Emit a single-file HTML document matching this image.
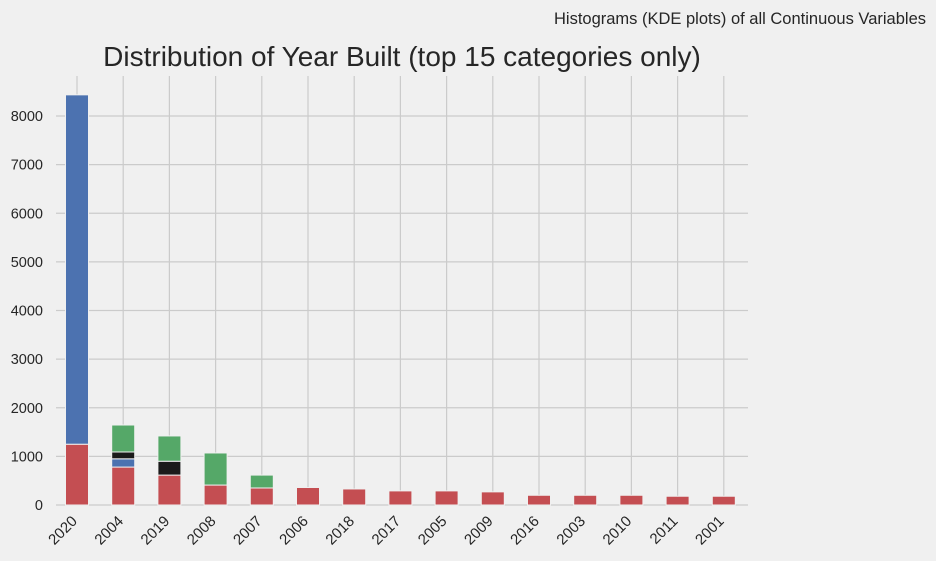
<!DOCTYPE html>
<html><head><meta charset="utf-8"><style>
body{margin:0;background:#f0f0f0;font-family:"Liberation Sans",sans-serif;overflow:hidden;}
svg{display:block;}
svg text{font-family:"Liberation Sans",sans-serif;fill:#262626;}
</style></head><body>
<svg width="936" height="561" xmlns="http://www.w3.org/2000/svg">
<rect width="936" height="561" fill="#f0f0f0"/>
<text x="926" y="24" text-anchor="end" font-size="16.5">Histograms (KDE plots) of all Continuous Variables</text>
<text x="402" y="66" text-anchor="middle" font-size="28">Distribution of Year Built (top 15 categories only)</text>
<g id="grid"></g><g id="bars"></g><g id="axes"></g>
</svg>
<script>
const categories=["2020","2004","2019","2008","2007","2006","2018","2017","2005","2009","2016","2003","2010","2011","2001"];
const redValues=[1250,780,615,410,350,360,330,290,290,270,200,200,200,180,180];
const blueValues=[7185,170,0,0,0,0,0,0,0,0,0,0,0,0,0];
const blackValues=[0,140,285,0,0,0,0,0,0,0,0,0,0,0,0];
const greenValues=[0,555,520,660,265,0,0,0,0,0,0,0,0,0,0];
const yTicks=[0,1000,2000,3000,4000,5000,6000,7000,8000];
const NS="http://www.w3.org/2000/svg";
const x0=56,x1=748,yTop=76,yBase=505,pxPer=389/8000;
const step=46.2,firstX=77,barW=23;
const xPos=i=>firstX+i*step;
const yPos=v=>yBase-v*pxPer;
function mk(t,a,p){const e=document.createElementNS(NS,t);for(const k in a)e.setAttribute(k,a[k]);p.appendChild(e);return e;}
const grid=document.getElementById('grid'),bars=document.getElementById('bars'),axes=document.getElementById('axes');
yTicks.forEach(v=>{
 const l=mk('line',{x1:x0,x2:x1,y1:yPos(v),y2:yPos(v),stroke:'#cbcbcb','stroke-width':1.2},grid);
 
 
 const t=mk('text',{x:43,y:yPos(v)+5,'text-anchor':'end','font-size':14.5},axes);
 t.textContent=v;
 
 
});
categories.forEach((c,i)=>{
 const l=mk('line',{x1:xPos(i),x2:xPos(i),y1:yTop,y2:yBase,stroke:'#cbcbcb','stroke-width':1.2},grid);
 
 
 const t=mk('text',{x:0,y:0,'text-anchor':'end','font-size':15,transform:`translate(${xPos(i)+1},${yBase+17}) rotate(-45)`},axes);
 t.textContent=c;
 
 
});
const series=[[redValues,'#c44e52','red'],[blueValues,'#4c72b0','blue'],[blackValues,'#1a1a1a','black'],[greenValues,'#55a868','green']];
categories.forEach((c,i)=>{
 let cum=0;
 series.forEach(([vals,col,nm])=>{
  const v=vals[i];if(!v)return;
  const r=mk('rect',{x:xPos(i)-barW/2,y:yPos(cum+v),width:barW,height:v*pxPer,fill:col,stroke:'#f0f0f0','stroke-width':1},bars);
  
  
  cum+=v;
 });
});
</script>
</body></html>
